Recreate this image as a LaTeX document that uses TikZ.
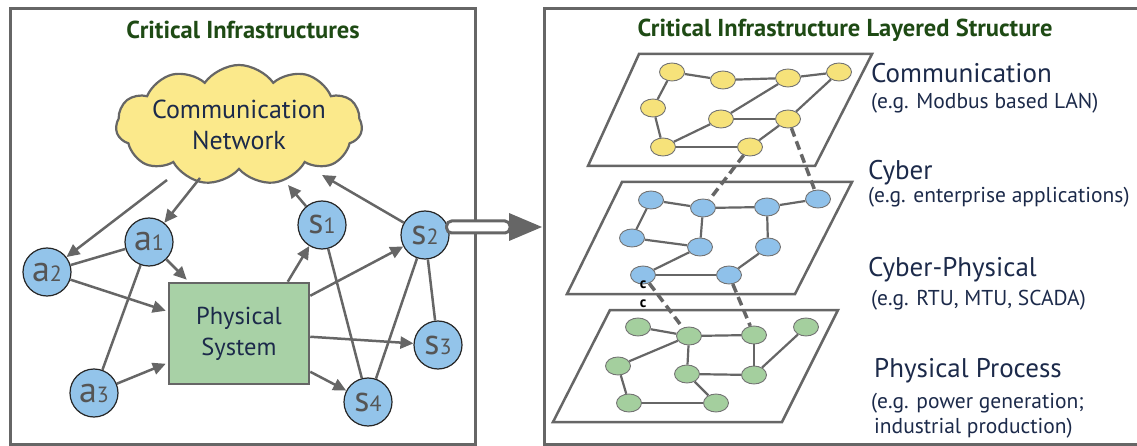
\documentclass[tikz,border=0pt]{standalone}
\usepackage{fontspec}
\setmainfont{PT Sans}
\usetikzlibrary{shapes.symbols,shapes.geometric,arrows.meta,calc}
\definecolor{edgegray}{HTML}{666666}
\definecolor{titlegreen}{HTML}{1E4A14}
\definecolor{navy}{HTML}{1C2A4A}
\definecolor{cloudyellow}{HTML}{FBE98B}
\definecolor{nodeblue}{HTML}{93C4EA}
\definecolor{boxgreen}{HTML}{A8D1A6}
\definecolor{elyellow}{HTML}{F6E27A}
\definecolor{elblue}{HTML}{8FC1EA}
\definecolor{elgreen}{HTML}{A4CF9E}
\definecolor{labgray}{HTML}{555555}
\newcommand{\lab}[2]{{\fontsize{36}{36}\selectfont #1}{\fontsize{22}{22}\selectfont #2}}
\tikzset{
  panel/.style={draw=edgegray, line width=3},
  titletext/.style={font=\bfseries\fontsize{24.5}{28}\selectfont, text=titlegreen},
  cloudnode/.style={cloud, cloud puffs=11, cloud puff arc=110, cloud ignores aspect,
     minimum width=242, minimum height=120, draw=edgegray, fill=cloudyellow, line width=2.2,
     align=center, text=navy, font=\fontsize{26}{31}\selectfont, inner sep=0},
  agent/.style={circle, minimum size=48, inner sep=0, fill=nodeblue, draw=black!85,
     line width=1.2, text=labgray},
  physbox/.style={rectangle, minimum width=140, minimum height=101, fill=boxgreen,
     draw=edgegray, line width=2.5, align=center, text=navy,
     font=\fontsize{24.5}{31}\selectfont},
  arr/.style={draw=edgegray, line width=2.5, -{Triangle[length=13,width=12]}},
  ln/.style={draw=edgegray, line width=2.5},
  layer/.style={draw=edgegray, line width=2.5, fill=white},
  el/.style={ellipse, minimum width=25, minimum height=18, inner sep=0,
     draw=black!55, line width=0.9},
  ely/.style={el, fill=elyellow},
  elb/.style={el, fill=elblue},
  elg/.style={el, fill=elgreen},
  eln/.style={draw=edgegray, line width=2.2},
  dsh/.style={draw=edgegray, line width=3.5, dash pattern=on 9 off 5},
  biglab/.style={anchor=west, text=navy, font=\fontsize{27}{30}\selectfont, inner sep=0},
  smalllab/.style={anchor=west, text=navy, font=\fontsize{21.5}{24}\selectfont, inner sep=0, align=left},
  clab/.style={font=\bfseries\fontsize{15}{15}\selectfont, inner sep=0},
}
\begin{document}
\begin{tikzpicture}[x=1pt,y=-1pt]
\useasboundingbox (0,0) rectangle (1137,446);
% panels
\draw[panel] (10,9) rectangle (475,444);
\draw[panel] (1150,9) -- (544,9) -- (544,444) -- (1150,444);
\node[titletext] (t1) at (243,30) {Critical Infrastructures};
\node[titletext] (t2) at (845,30) {Critical Infrastructure Layered Structure};

% left panel
\node[cloudnode] (cloud) at (239,125) {Communication\\Network};
\node[physbox] (phys) at (239,333.5) {Physical\\System};
\node[agent] (a1) at (149,242) {\lab{a}{1}};
\node[agent] (a2) at (47,272) {\lab{a}{2}};
\node[agent] (a3) at (94,393) {\lab{a}{3}};
\node[agent] (s1) at (322,225) {\lab{s}{1}};
\node[agent] (s2) at (425,235) {\lab{s}{2}};
\node[agent] (s3) at (438,345) {\lab{s}{3}};
\node[agent] (s4) at (368,402) {\lab{s}{4}};

\draw[arr] ($(cloud.center)+(-72,55)$) -- (a2);
\draw[arr] ($(cloud.center)+(-39,53)$) -- (a1);
\draw[arr] (s1) -- ($(cloud.center)+(49,60)$);
\draw[arr] (s2) -- ($(cloud.center)+(83,50)$);
\draw[ln] (a1) -- (a2);
\draw[ln] (a1) -- (a3);
\draw[arr] (a1) -- ($(phys.north west)+(19,-2)$);
\draw[arr] (a2) -- ($(phys.north west)+(-2,29)$);
\draw[arr] (a3) -- ($(phys.north west)+(-2,82)$);
\draw[arr] ($(phys.north west)+(120,0)$) -- (s1);
\draw[arr] ($(phys.north east)+(0,14)$) -- (s2);
\draw[arr] ($(phys.north east)+(0,55)$) -- (s3);
\draw[arr] ($(phys.north east)+(0,90)$) -- (s4);
\draw[ln] (s1) -- (s4);
\draw[ln] (s2) -- (s4);
\draw[ln] (s2) -- (s3);

% big arrow
\coordinate (hb) at (509,227);
\coordinate (bigtip) at (542,227);
\draw[draw=edgegray, line width=3, fill=white, rounded corners=5]
  ($(s2.east)+(-3,-14)$) -- ($(hb)+(1,-6)$) -- ($(hb)+(1,6)$) -- ($(s2.east)+(-3,-2)$) -- cycle;
\fill[edgegray] ($(hb)+(0,-14)$) -- (bigtip) -- ($(hb)+(0,14)$) -- cycle;

% layers
\draw[layer] (639,54) -- (872,54) -- (815,166) -- (588,166) -- cycle;
\draw[layer] (622,182) -- (852,182) -- (795,294) -- (567,294) -- cycle;
\draw[layer] (610,310) -- (838,310) -- (782,422) -- (553,422) -- cycle;

% communication layer
\node[ely] (y1) at (672,72) {};
\node[ely] (y2) at (723,80) {};
\node[ely] (y3) at (788,78) {};
\node[ely] (y4) at (839,72) {};
\node[ely] (y5) at (653,108) {};
\node[ely] (y6) at (721,119) {};
\node[ely] (y7) at (788,119) {};
\node[ely] (y8) at (663,147) {};
\node[ely] (y9) at (750,147) {};
\draw[eln] (y1) -- (y2); \draw[eln] (y2) -- (y3); \draw[eln] (y3) -- (y4);
\draw[eln] (y1) -- (y5); \draw[eln] (y5) -- (y8); \draw[eln] (y8) -- (y9);
\draw[eln] (y8) -- (y6); \draw[eln] (y6) -- (y7); \draw[eln] (y6) -- (y3);
\draw[eln] (y4) -- (y7); \draw[eln] (y7) -- (y9);

% cyber layer
\node[elb] (b1) at (651,200) {};
\node[elb] (b2) at (703,208) {};
\node[elb] (b3) at (767,207) {};
\node[elb] (b4) at (818,199) {};
\node[elb] (b5) at (632,238) {};
\node[elb] (b6) at (700,247) {};
\node[elb] (b7) at (768,247) {};
\node[elb] (b8) at (643,275) {};
\node[elb] (b9) at (729,275) {};
\draw[eln] (b1) -- (b2); \draw[eln] (b2) -- (b3); \draw[eln] (b3) -- (b4);
\draw[eln] (b1) -- (b5); \draw[eln] (b5) -- (b6); \draw[eln] (b2) -- (b6);
\draw[eln] (b3) -- (b7); \draw[eln] (b6) -- (b8); \draw[eln] (b8) -- (b9);
\draw[eln] (b9) -- (b7);

% physical layer
\node[elg] (g1) at (638,327) {};
\node[elg] (g2) at (689,336) {};
\node[elg] (g3) at (754,335) {};
\node[elg] (g4) at (806,327) {};
\node[elg] (g5) at (618,366) {};
\node[elg] (g6) at (687,374) {};
\node[elg] (g7) at (754,375) {};
\node[elg] (g8) at (629,403) {};
\node[elg] (g9) at (716,403) {};
\draw[eln] (g1) -- (g2); \draw[eln] (g2) -- (g3); \draw[eln] (g2) -- (g5);
\draw[eln] (g2) -- (g6); \draw[eln] (g3) -- (g7); \draw[eln] (g6) -- (g7);
\draw[eln] (g7) -- (g4); \draw[eln] (g5) -- (g8); \draw[eln] (g8) -- (g9);
\draw[eln] (g6) -- (g9);

% inter-layer dashed
\draw[dsh] (y9) -- (b2);
\draw[dsh] (y7) -- (b4);
\draw[dsh] (b8) -- (g2);
\draw[dsh] (b9) -- (g3);

\node[clab] (c1) at (643,285) {c};
\node[clab] (c2) at (643,304) {c};

% labels
\node[biglab] (l1) at (871,73) {Communication};
\node[smalllab] (l1b) at (871,103) {(e.g. Modbus based LAN)};
\node[biglab] (l2) at (868,173) {Cyber};
\node[smalllab] (l2b) at (868,197) {(e.g. enterprise applications)};
\node[biglab] (l3) at (868,270) {Cyber-Physical};
\node[smalllab] (l3b) at (871,300) {(e.g. RTU, MTU, SCADA)};
\node[biglab] (l4) at (874,371) {Physical Process};
\node[smalllab] (l4b) at (871,403) {(e.g. power generation;};
\node[smalllab] (l4c) at (874,428) {industrial production)};
\end{tikzpicture}
\end{document}
